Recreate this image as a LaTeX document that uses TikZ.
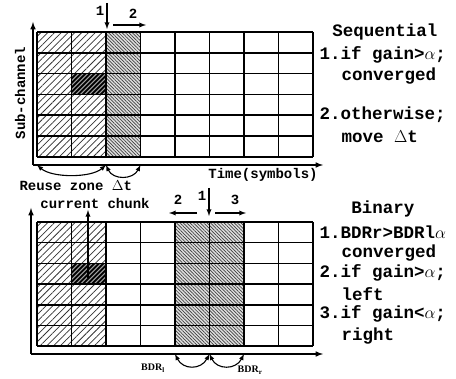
\documentclass[tikz,border=0pt]{standalone}
\usepackage{fontspec}
\setmainfont{Liberation Mono}
\newfontfamily\serifbdr{Liberation Serif}
\usetikzlibrary{patterns.meta, arrows}

\newcommand{\bigtxt}{\fontsize{17.5}{18}\selectfont\bfseries}
\newcommand{\midtxt}{\fontsize{14}{14}\selectfont\bfseries}
\newcommand{\smltxt}{\fontsize{10}{10}\selectfont\serifbdr\bfseries}
% dark cell: black with gray stripes
\newcommand{\darkcell}[2]{%
  \begin{scope}
    \clip (#1,#2) rectangle ++(34.5,20.8);
    \fill[black] (#1,#2) rectangle ++(34.5,20.8);
    \foreach \k in {-5,...,12}
      \draw[gray!75, line width=1.1pt] (#1+4.5*\k,#2+20.8) -- ++(20.8,-20.8);
  \end{scope}}

\tikzset{
  gridline/.style={line width=1.6pt},
  axis/.style={line width=1.5pt, -latex},
  light/.style={pattern={Lines[angle=45, distance=4.8pt, line width=0.75pt]}, pattern color=black!80},
  dense/.style={fill=gray!25, postaction={pattern={Lines[angle=-45, distance=2.4pt, line width=0.7pt]}, pattern color=black!75}},
}

\begin{document}
\begin{tikzpicture}[x=1pt, y=-1pt]
        \useasboundingbox (0,0) rectangle (456,379);
        % top grid (sequential)
        \foreach \r in {0,...,5} {
            \fill[light] (37,32+20.8*\r) rectangle ++(69,20.8);
            \fill[dense] (106,32+20.8*\r) rectangle ++(34.5,20.8);
        }
        \darkcell{71.5}{73.6}
        \foreach \i in {0,...,8}
            \draw[gridline] (37+34.5*\i,32) -- ++(0,124.8);
        \foreach \j in {0,...,6}
            \draw[gridline] (37,32+20.8*\j) -- ++(276,0);
        \coordinate (O1) at (33,165);
        \draw[axis] (O1) -- (33,22);
        \draw[axis] (O1) -- (323,165);
        \node[font=\midtxt, rotate=90] (sub) at (20,93) {Sub-channel};
        \node[font=\midtxt] (time) at (263,175) {Time(symbols)};
        % moves
        \coordinate (s1) at (107,3);
        \draw[line width=1.3pt, -latex] (s1) -- (107,29);
        \node[font=\midtxt] (n1) at (100,11) {1};
        \coordinate (s2) at (113,25);
        \draw[line width=1.3pt, -latex] (s2) -- (146,25);
        \node[font=\midtxt] (n2) at (133,14) {2};
        % zones
        \coordinate (z0) at (37,165);
        \coordinate (z1) at (106,165);
        \coordinate (z2) at (140.5,165);
        \draw[line width=1.1pt, latex-latex] (z0) .. controls (52,178) and (91,178) .. (z1);
        \draw[line width=1.1pt, latex-latex] (z1) .. controls (113,180) and (133,180) .. (z2);
        \node[font=\midtxt, anchor=west] (reuse) at (16,186) {Reuse zone $\Delta$t};
        % sequential rules
        \node[font=\bigtxt] (seq) at (385,32) {Sequential};
        \node[font=\bigtxt, anchor=west] (r1) at (316,55) {1.if gain>$\alpha$;};
        \node[font=\bigtxt, anchor=west] (r1b) at (338,76) {converged};
        \node[font=\bigtxt, anchor=west] (r2) at (316,115) {2.otherwise;};
        \node[font=\bigtxt, anchor=west] (r2b) at (338,137) {move $\Delta$t};
        % bottom grid (binary)
        \foreach \r in {0,...,5} {
            \fill[light] (37,222+20.7*\r) rectangle ++(69,20.7);
            \fill[dense] (175,222+20.7*\r) rectangle ++(69,20.7);
        }
        \darkcell{71.5}{263.4}
        \foreach \i in {0,...,8}
            \draw[gridline] (37+34.5*\i,222) -- ++(0,124.2);
        \foreach \j in {0,...,6}
            \draw[gridline] (37,222+20.7*\j) -- ++(276,0);
        \coordinate (O2) at (31,354);
        \draw[axis] (O2) -- (31,208);
        \draw[axis] (O2) -- (323,354);
        \coordinate (cc) at (88,278);
        \draw[line width=1.3pt, -latex] (cc) -- (88,210);
        \node[font=\midtxt] (chunk) at (95,203) {current chunk};
        % moves
        \coordinate (b1) at (209,188);
        \draw[line width=1.3pt, -latex] (b1) -- (209,216);
        \node[font=\midtxt] (m1) at (202,196) {1};
        \coordinate (b2) at (197,213);
        \draw[line width=1.3pt, -latex] (b2) -- (169,213);
        \node[font=\midtxt] (m2) at (178,200) {2};
        \coordinate (b3) at (215,213);
        \draw[line width=1.3pt, -latex] (b3) -- (246,213);
        \node[font=\midtxt] (m3) at (235,200) {3};
        % BDR zones
        \coordinate (d0) at (175,354);
        \coordinate (d1) at (209.5,354);
        \coordinate (d2) at (244,354);
        \draw[line width=1.1pt, latex-latex] (d0) .. controls (183,370) and (201,370) .. (d1);
        \draw[line width=1.1pt, latex-latex] (d1) .. controls (217,370) and (236,370) .. (d2);
        \node[font=\smltxt] (bl) at (153,368) {BDR\textsubscript{l}};
        \node[font=\smltxt] (br) at (250,370) {BDR\textsubscript{r}};
        % binary rules
        \node[font=\bigtxt] (bin) at (383,209) {Binary};
        \node[font=\bigtxt, anchor=west] (q1) at (316,232) {1.BDRr>BDRl$\alpha$};
        \node[font=\bigtxt, anchor=west] (q1b) at (338,253) {converged};
        \node[font=\bigtxt, anchor=west] (q2) at (316,273) {2.if gain>$\alpha$;};
        \node[font=\bigtxt, anchor=west] (q2b) at (338,294) {left};
        \node[font=\bigtxt, anchor=west] (q3) at (316,314) {3.if gain<$\alpha$;};
        \node[font=\bigtxt, anchor=west] (q3b) at (338,336) {right};
\end{tikzpicture}
\end{document}
